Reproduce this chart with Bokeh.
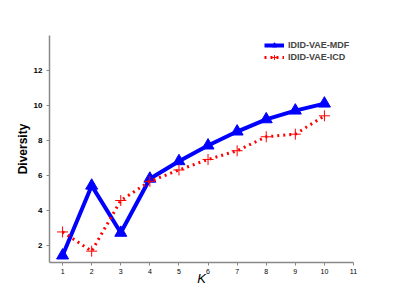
from bokeh.plotting import figure
from bokeh.models import Range1d, FixedTicker, Legend, LegendItem
from bokeh.embed import file_html
from bokeh.resources import INLINE

k = [1, 2, 3, 4, 5, 6, 7, 8, 9, 10]
mdf = [1.4, 5.4, 2.7, 5.8, 6.8, 7.7, 8.5, 9.2, 9.7, 10.1]
icd = [2.75, 1.65, 4.55, 5.65, 6.3, 6.9, 7.4, 8.2, 8.35, 9.4]
xticks = [1, 2, 3, 4, 5, 6, 7, 8, 9, 10, 11]
yticks = [2, 4, 6, 8, 10, 12]

p = figure(width=385, height=286, output_backend="svg", toolbar_location=None,
           x_range=Range1d(0.55, 11), y_range=Range1d(1.0, 14.0))
p.min_border_left = 49
p.min_border_top = 35
p.min_border_right = 32
p.min_border_bottom = 24
p.frame_width = 304
p.frame_height = 227
p.outline_line_color = None
p.grid.visible = False
p.background_fill_color = "white"

l1 = p.line(k, mdf, line_color="#0000ff", line_width=4)
m1 = p.scatter(k, mdf, marker="triangle", size=12, fill_color="#0000ff", line_color="#0000ff")
l2 = p.line(k, icd, line_color="#ff0000", line_width=3, line_dash="2 4")
m2 = p.scatter(k, icd, marker="cross", size=11, line_color="#ff0000", line_width=1)

for ax in (p.xaxis[0], p.yaxis[0]):
    ax.axis_line_color = "#888888"
    ax.axis_line_width = 1.5
    ax.major_tick_line_color = "#888888"
    ax.major_tick_out = 3
    ax.major_tick_in = 0
    ax.minor_tick_line_color = None
    ax.major_label_text_font = "Liberation Sans"
    ax.major_label_text_color = "black"

p.xaxis.ticker = FixedTicker(ticks=xticks)
p.yaxis.ticker = FixedTicker(ticks=yticks)
p.xaxis.major_label_text_font_size = "7px"
p.yaxis.major_label_text_font_size = "8px"
p.yaxis.major_label_text_font_style = "bold"
p.xaxis.major_label_standoff = 3
p.yaxis.major_label_standoff = 4

p.xaxis.axis_label = "K"
p.xaxis.axis_label_text_font = "Liberation Sans"
p.xaxis.axis_label_text_font_style = "italic"
p.xaxis.axis_label_text_font_size = "13px"
p.xaxis.axis_label_text_color = "black"
p.xaxis.axis_label_standoff = -6
p.yaxis.axis_label = "Diversity"
p.yaxis.axis_label_text_font = "Liberation Sans"
p.yaxis.axis_label_text_font_style = "bold"
p.yaxis.axis_label_text_font_size = "12px"
p.yaxis.axis_label_text_color = "black"
p.yaxis.axis_label_standoff = 1

legend = Legend(items=[LegendItem(label="IDID-VAE-MDF", renderers=[l1, m1]),
                       LegendItem(label="IDID-VAE-ICD", renderers=[l2, m2])],
                location=(215, 199))
legend.label_text_font = "Liberation Sans"
legend.label_text_font_size = "9px"
legend.label_text_font_style = "bold"
legend.border_line_color = None
legend.background_fill_alpha = 0
legend.glyph_width = 20
legend.glyph_height = 12
legend.label_height = 12
legend.spacing = 0
legend.padding = 2
legend.label_standoff = 4
p.add_layout(legend)

open("out.html", "w").write(file_html(p, INLINE))
